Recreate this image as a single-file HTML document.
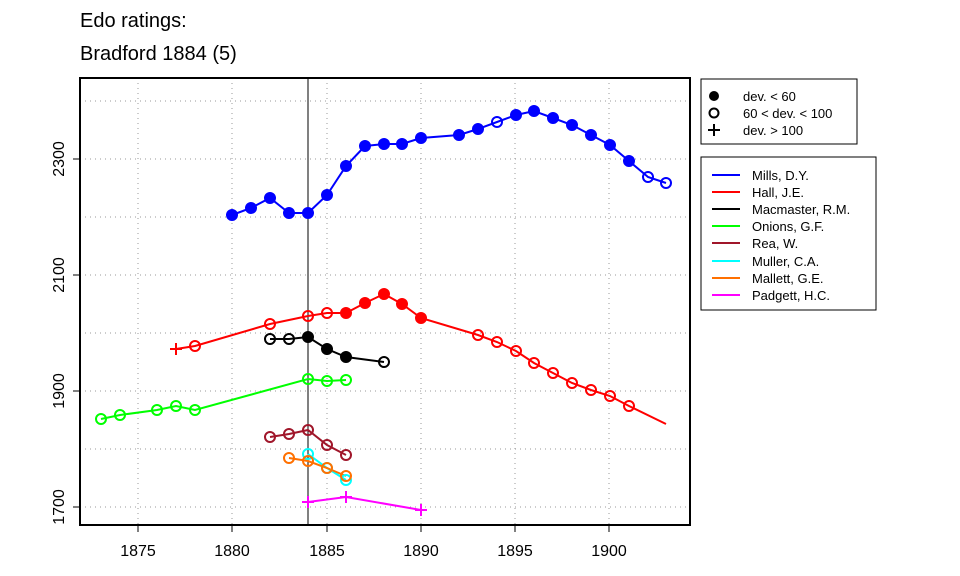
<!DOCTYPE html><html><head><style>body{margin:0;background:#fff}svg{display:block}text{font-family:"Liberation Sans",Arial,sans-serif}</style></head><body>
<svg width="960" height="576" viewBox="0 0 960 576">
<text x="80" y="27" font-size="20">Edo ratings:</text>
<text x="80" y="60" font-size="20">Bradford 1884 (5)</text>
<g stroke="#999" stroke-width="1" stroke-dasharray="1,4" fill="none">
<line x1="138" y1="78" x2="138" y2="525"/><line x1="232" y1="78" x2="232" y2="525"/><line x1="327" y1="78" x2="327" y2="525"/><line x1="421" y1="78" x2="421" y2="525"/><line x1="515" y1="78" x2="515" y2="525"/><line x1="609" y1="78" x2="609" y2="525"/>
<line x1="80" y1="507" x2="690" y2="507"/><line x1="80" y1="449" x2="690" y2="449"/><line x1="80" y1="391" x2="690" y2="391"/><line x1="80" y1="333" x2="690" y2="333"/><line x1="80" y1="275" x2="690" y2="275"/><line x1="80" y1="217" x2="690" y2="217"/><line x1="80" y1="159" x2="690" y2="159"/><line x1="80" y1="101" x2="690" y2="101"/>
</g>
<line x1="308" y1="78" x2="308" y2="525" stroke="#000" stroke-width="1"/>
<rect x="80" y="78" width="610" height="447" fill="none" stroke="#000" stroke-width="2"/>
<g stroke="#000" stroke-width="1">
<line x1="138" y1="525" x2="138" y2="532"/><line x1="232" y1="525" x2="232" y2="532"/><line x1="327" y1="525" x2="327" y2="532"/><line x1="421" y1="525" x2="421" y2="532"/><line x1="515" y1="525" x2="515" y2="532"/><line x1="609" y1="525" x2="609" y2="532"/>
<line x1="73" y1="507" x2="80" y2="507"/><line x1="73" y1="391" x2="80" y2="391"/><line x1="73" y1="275" x2="80" y2="275"/><line x1="73" y1="159" x2="80" y2="159"/>
</g>
<g font-size="16" text-anchor="middle">
<text x="138" y="556">1875</text><text x="232" y="556">1880</text><text x="327" y="556">1885</text><text x="421" y="556">1890</text><text x="515" y="556">1895</text><text x="609" y="556">1900</text>
<text transform="translate(64,507) rotate(-90)">1700</text><text transform="translate(64,391) rotate(-90)">1900</text><text transform="translate(64,275) rotate(-90)">2100</text><text transform="translate(64,159) rotate(-90)">2300</text>
</g>
<g fill="none" stroke-width="2">
<polyline stroke="#0000ff" points="232,215 251,208 270,198 289,213 308,213 327,195 346,166 365,146 384,144 402,144 421,138 459,135 478,129 497,122 516,115 534,111 553,118 572,125 591,135 610,145 629,161 648,177 666,183"/>
<polyline stroke="#ff0000" points="176,349 195,346 270,324 308,316 327,313 346,313 365,303 384,294 402,304 421,318 478,335 497,342 516,351 534,363 553,373 572,383 591,390 610,396 629,406 666,424"/>
<polyline stroke="#000" points="270,339 289,339 308,337 327,349 346,357 384,362"/>
<polyline stroke="#00ff00" points="101,419 120,415 157,410 176,406 195,410 308,379 327,381 346,380"/>
<polyline stroke="#a0162a" points="270,437 289,434 308,430 327,445 346,455"/>
<polyline stroke="#00ffff" points="308,454 327,468 346,480"/>
<polyline stroke="#ff7000" points="289,458 308,461 327,468 346,476"/>
<polyline stroke="#ff00ff" points="308,502 346,497 421,510"/>
</g>
<g stroke-width="2">
<g fill="#0000ff" stroke="#0000ff"><circle cx="232" cy="215" r="5"/><circle cx="251" cy="208" r="5"/><circle cx="270" cy="198" r="5"/><circle cx="289" cy="213" r="5"/><circle cx="308" cy="213" r="5"/><circle cx="327" cy="195" r="5"/><circle cx="346" cy="166" r="5"/><circle cx="365" cy="146" r="5"/><circle cx="384" cy="144" r="5"/><circle cx="402" cy="144" r="5"/><circle cx="421" cy="138" r="5"/><circle cx="459" cy="135" r="5"/><circle cx="478" cy="129" r="5"/><circle cx="516" cy="115" r="5"/><circle cx="534" cy="111" r="5"/><circle cx="553" cy="118" r="5"/><circle cx="572" cy="125" r="5"/><circle cx="591" cy="135" r="5"/><circle cx="610" cy="145" r="5"/><circle cx="629" cy="161" r="5"/></g>
<g fill="none" stroke="#0000ff"><circle cx="497" cy="122" r="5"/><circle cx="648" cy="177" r="5"/><circle cx="666" cy="183" r="5"/></g>
<g fill="#ff0000" stroke="#ff0000"><circle cx="346" cy="313" r="5"/><circle cx="365" cy="303" r="5"/><circle cx="384" cy="294" r="5"/><circle cx="402" cy="304" r="5"/><circle cx="421" cy="318" r="5"/></g>
<g fill="none" stroke="#ff0000"><circle cx="195" cy="346" r="5"/><circle cx="270" cy="324" r="5"/><circle cx="308" cy="316" r="5"/><circle cx="327" cy="313" r="5"/><circle cx="478" cy="335" r="5"/><circle cx="497" cy="342" r="5"/><circle cx="516" cy="351" r="5"/><circle cx="534" cy="363" r="5"/><circle cx="553" cy="373" r="5"/><circle cx="572" cy="383" r="5"/><circle cx="591" cy="390" r="5"/><circle cx="610" cy="396" r="5"/><circle cx="629" cy="406" r="5"/><path d="M170,349h12M176,343v12"/></g>
<g fill="#000" stroke="#000"><circle cx="308" cy="337" r="5"/><circle cx="327" cy="349" r="5"/><circle cx="346" cy="357" r="5"/></g>
<g fill="none" stroke="#000"><circle cx="270" cy="339" r="5"/><circle cx="289" cy="339" r="5"/><circle cx="384" cy="362" r="5"/></g>
<g fill="none" stroke="#00ff00"><circle cx="101" cy="419" r="5"/><circle cx="120" cy="415" r="5"/><circle cx="157" cy="410" r="5"/><circle cx="176" cy="406" r="5"/><circle cx="195" cy="410" r="5"/><circle cx="308" cy="379" r="5"/><circle cx="327" cy="381" r="5"/><circle cx="346" cy="380" r="5"/></g>
<g fill="none" stroke="#a0162a"><circle cx="270" cy="437" r="5"/><circle cx="289" cy="434" r="5"/><circle cx="308" cy="430" r="5"/><circle cx="327" cy="445" r="5"/><circle cx="346" cy="455" r="5"/></g>
<g fill="none" stroke="#00ffff"><circle cx="308" cy="454" r="5"/><circle cx="327" cy="468" r="5"/><circle cx="346" cy="480" r="5"/></g>
<g fill="none" stroke="#ff7000"><circle cx="289" cy="458" r="5"/><circle cx="308" cy="461" r="5"/><circle cx="327" cy="468" r="5"/><circle cx="346" cy="476" r="5"/></g>
<g stroke="#ff00ff"><path d="M302,502h12M308,496v12M340,497h12M346,491v12M415,510h12M421,504v12"/></g>
</g>
<rect x="701" y="79" width="156" height="65" fill="#fff" stroke="#000" stroke-width="1"/>
<circle cx="714" cy="96" r="5" fill="#000"/><circle cx="714" cy="113" r="4.5" fill="none" stroke="#000" stroke-width="2"/><path d="M708,130h12M714,124v12" stroke="#000" stroke-width="2"/>
<g font-size="13"><text x="743" y="101">dev. &lt; 60</text><text x="743" y="118">60 &lt; dev. &lt; 100</text><text x="743" y="135">dev. &gt; 100</text></g>
<rect x="701" y="157" width="175" height="153" fill="#fff" stroke="#000" stroke-width="1"/>
<g stroke-width="2">
<line x1="712" y1="175" x2="740" y2="175" stroke="#0000ff"/><line x1="712" y1="192" x2="740" y2="192" stroke="#ff0000"/><line x1="712" y1="209" x2="740" y2="209" stroke="#000"/><line x1="712" y1="226" x2="740" y2="226" stroke="#00ff00"/><line x1="712" y1="243" x2="740" y2="243" stroke="#a0162a"/><line x1="712" y1="261" x2="740" y2="261" stroke="#00ffff"/><line x1="712" y1="278" x2="740" y2="278" stroke="#ff7000"/><line x1="712" y1="295" x2="740" y2="295" stroke="#ff00ff"/>
</g>
<g font-size="13"><text x="752" y="180">Mills, D.Y.</text><text x="752" y="197">Hall, J.E.</text><text x="752" y="214">Macmaster, R.M.</text><text x="752" y="231">Onions, G.F.</text><text x="752" y="248">Rea, W.</text><text x="752" y="266">Muller, C.A.</text><text x="752" y="283">Mallett, G.E.</text><text x="752" y="300">Padgett, H.C.</text></g>
</svg></body></html>
